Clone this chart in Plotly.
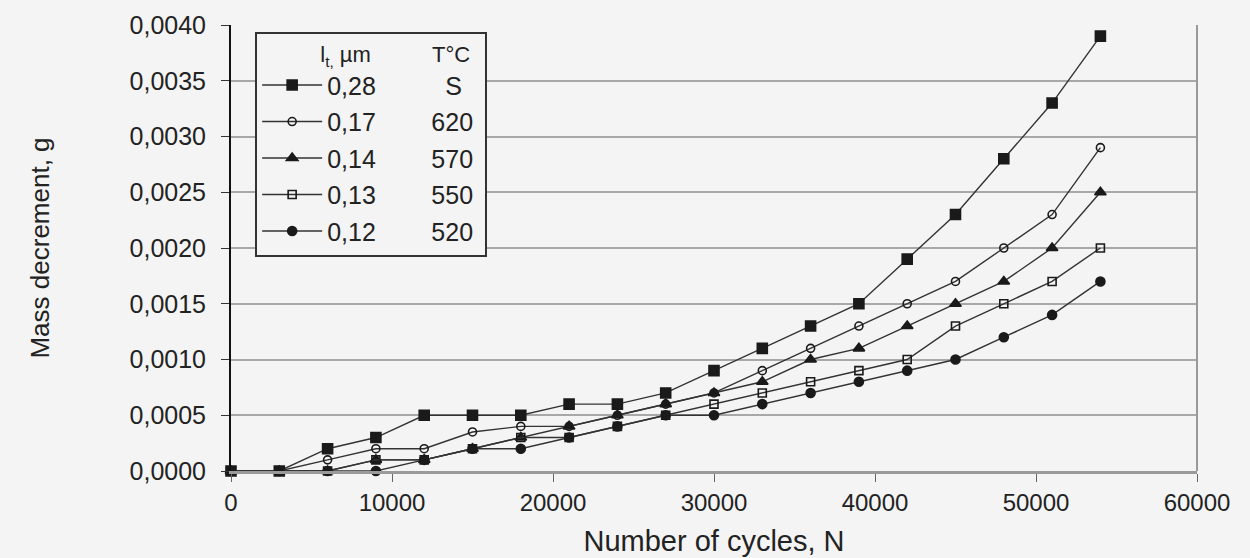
import plotly.graph_objects as go

# Number of loading cycles at which mass loss was measured
cycles = [0, 3000, 6000, 9000, 12000, 15000, 18000, 21000, 24000, 27000,
          30000, 33000, 36000, 39000, 42000, 45000, 48000, 51000, 54000]

# Mass decrement (g) for each layer thickness / temperature
loss_028_S = [0, 0, 0.0002, 0.0003, 0.0005, 0.0005, 0.0005, 0.0006, 0.0006, 0.0007,
              0.0009, 0.0011, 0.0013, 0.0015, 0.0019, 0.0023, 0.0028, 0.0033, 0.0039]
loss_017_620 = [0, 0, 0.0001, 0.0002, 0.0002, 0.00035, 0.0004, 0.0004, 0.0005, 0.0006,
                0.0007, 0.0009, 0.0011, 0.0013, 0.0015, 0.0017, 0.0020, 0.0023, 0.0029]
loss_014_570 = [0, 0, 0, 0.0001, 0.0001, 0.0002, 0.0003, 0.0004, 0.0005, 0.0006,
                0.0007, 0.0008, 0.0010, 0.0011, 0.0013, 0.0015, 0.0017, 0.0020, 0.0025]
loss_013_550 = [0, 0, 0, 0.0001, 0.0001, 0.0002, 0.0003, 0.0003, 0.0004, 0.0005,
                0.0006, 0.0007, 0.0008, 0.0009, 0.0010, 0.0013, 0.0015, 0.0017, 0.0020]
loss_012_520 = [0, 0, 0, 0, 0.0001, 0.0002, 0.0002, 0.0003, 0.0004, 0.0005,
                0.0005, 0.0006, 0.0007, 0.0008, 0.0009, 0.0010, 0.0012, 0.0014, 0.0017]

thickness = ["0,28", "0,17", "0,14", "0,13", "0,12"]
temperature = ["S", "620", "570", "550", "520"]
series = [loss_028_S, loss_017_620, loss_014_570, loss_013_550, loss_012_520]
symbols = ["square", "circle-open", "triangle-up", "square-open", "circle"]
sizes = [10, 8, 10, 8, 9]

y_ticks = [0.0, 0.0005, 0.0010, 0.0015, 0.0020, 0.0025, 0.0030, 0.0035, 0.0040]
x_ticks = [0, 10000, 20000, 30000, 40000, 50000, 60000]

BG = "#f4f4f4"
INK = "#222222"
NB = "\u00a0"

fig = go.Figure()
for i, (vals, sym, sz) in enumerate(zip(series, symbols, sizes)):
    pad = NB * (10 if temperature[i] == "S" else 8)
    label = thickness[i] + pad + temperature[i]
    fig.add_trace(go.Scatter(
        x=cycles, y=vals, mode="lines+markers", name=label,
        legendgroup=f"g{i}",
        line=dict(color="#333333", width=1.4),
        marker=dict(symbol=sym, size=sz, color="#1a1a1a",
                    line=dict(color="#1a1a1a", width=1.6)),
        cliponaxis=False,
    ))

fig.update_layout(
    width=1250, height=558,
    margin=dict(l=231, r=53, t=25, b=87),
    paper_bgcolor=BG, plot_bgcolor=BG,
    separators=", ",
    font=dict(family="Liberation Sans, Arial, sans-serif", color=INK, size=20),
    showlegend=True,
    legend=dict(
        x=0.025, y=0.985, xanchor="left", yanchor="top",
        bgcolor=BG, bordercolor="#333333", borderwidth=2,
        font=dict(size=25, color=INK),
        title=dict(text=NB * 10 + "l<sub>t,</sub> µm" + NB * 10 + "T°C" + NB * 2,
                   font=dict(size=22, color=INK)),
        traceorder="grouped", tracegroupgap=1, itemwidth=60,
    ),
    xaxis=dict(
        range=[0, 60000], tickvals=x_ticks, tickformat="d",
        automargin=False,
        showgrid=False, zeroline=False,
        showline=True, linecolor="#9a9a9a", linewidth=3, mirror=False,
        ticks="outside", ticklen=8, tickcolor="#666666", tickwidth=1,
        tickfont=dict(size=24, color=INK),
        title=dict(text=NB * 7 + "Number of cycles, N", standoff=16,
                   font=dict(size=29, color=INK)),
    ),
    yaxis=dict(
        range=[0, 0.0040], tickvals=y_ticks, tickformat=".4f",
        automargin=False,
        showgrid=True, gridcolor="#a8a8a8", gridwidth=2,
        zeroline=False,
        showline=True, linecolor="#111111", linewidth=2,
        ticks="outside", ticklen=8, tickcolor="#333333", tickwidth=1,
        ticklabelstandoff=10,
        tickfont=dict(size=25, color=INK),
        title=dict(text="Mass decrement, g", standoff=72,
                   font=dict(family="Liberation Sans Narrow, Arial Narrow, Liberation Sans, sans-serif",
                             size=26, color=INK)),
    ),
)

# right-hand frame of the plot area
fig.add_shape(type="line", xref="paper", yref="paper", x0=1, x1=1, y0=0, y1=1,
              line=dict(color="#9a9a9a", width=2))

fig.write_html("out.html")
